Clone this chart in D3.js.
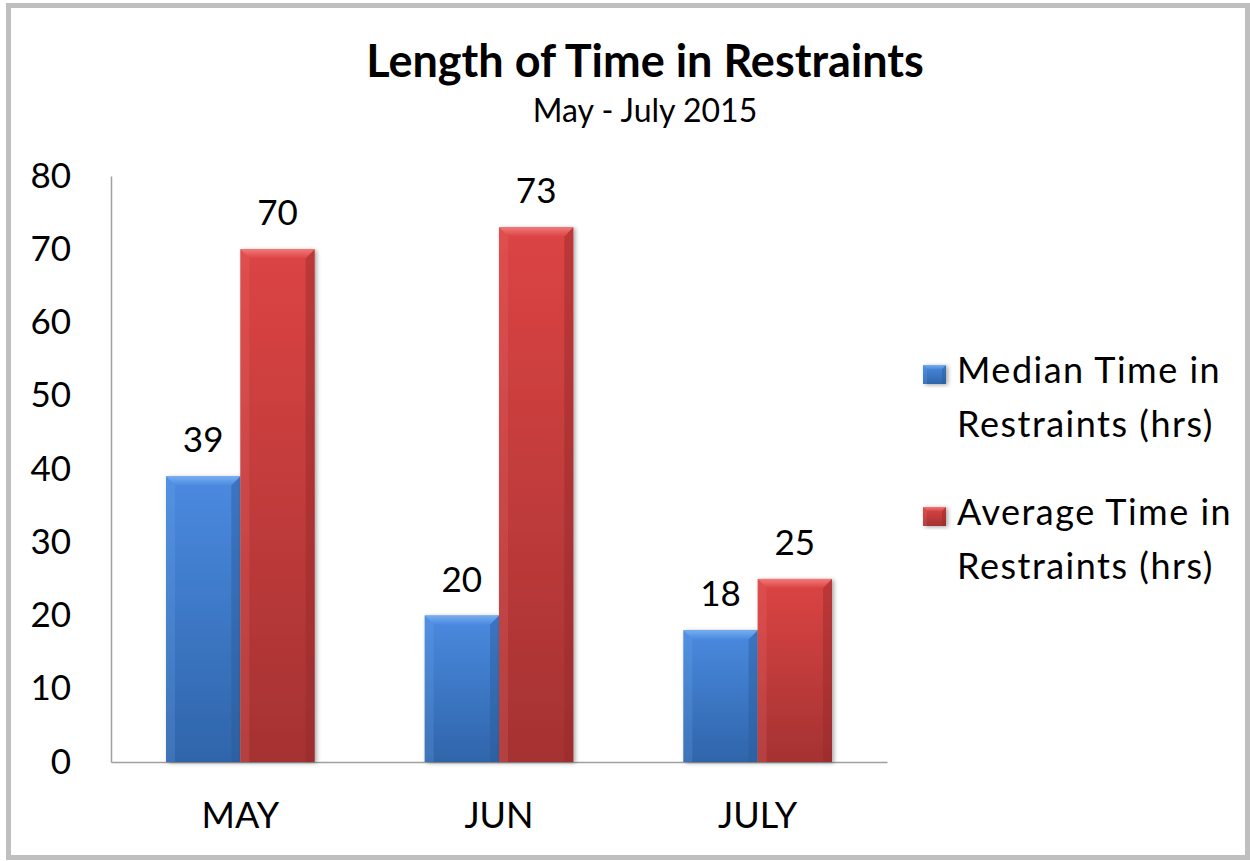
<!DOCTYPE html>
<html>
<head>
<meta charset="utf-8">
<script src="https://cdn.jsdelivr.net/npm/d3@7"></script>
<style>
  body { margin: 0; background: #fff; }
  text { font-family: Lato, "Open Sans", sans-serif; fill: #000; }
</style>
</head>
<body>
<script>
'use strict';

let categories = ["MAY", "JUN", "JULY"];
let medianValues = [39, 20, 18];
let averageValues = [70, 73, 25];
let seriesNames = ["Median Time in Restraints (hrs)", "Average Time in Restraints (hrs)"];
let legendLines = [["Median Time in", "Restraints (hrs)"], ["Average Time in", "Restraints (hrs)"]];
let yTicks = [0, 10, 20, 30, 40, 50, 60, 70, 80];

let width = 1250;
let height = 861;

let svgContainer = d3.select('body')
  .append('svg')
  .attr('width', width)
  .attr('height', height);

// colours for each series: top, bottom, light bevel, dark bevel
let palette = [
  { top: "#4a8ae0", bottom: "#2f65aa", light: "#78aef0", dark: "#2a5a98" },
  { top: "#dc4444", bottom: "#a53232", light: "#f27a7a", dark: "#952a2a" }
];

let defs = svgContainer.append('defs');
palette.forEach(function(c, i) {
  let g = defs.append('linearGradient')
    .attr('id', 'grad' + i)
    .attr('x1', 0).attr('y1', 0).attr('x2', 0).attr('y2', 1);
  g.append('stop').attr('offset', '0%').attr('stop-color', c.top);
  g.append('stop').attr('offset', '100%').attr('stop-color', c.bottom);
  let t = defs.append('linearGradient')
    .attr('id', 'topgrad' + i)
    .attr('x1', 0).attr('y1', 0).attr('x2', 0).attr('y2', 1);
  t.append('stop').attr('offset', '0%').attr('stop-color', c.light);
  t.append('stop').attr('offset', '100%').attr('stop-color', c.top);
});
let shadow = defs.append('filter').attr('id', 'shadow')
  .attr('x', '-20%').attr('y', '-20%').attr('width', '150%').attr('height', '140%');
shadow.append('feDropShadow')
  .attr('dx', 2).attr('dy', 1).attr('stdDeviation', 2)
  .attr('flood-color', '#000').attr('flood-opacity', 0.35);

// outer frame
svgContainer.append('rect')
  .attr('x', 8.5).attr('y', 5.5)
  .attr('width', 1239).attr('height', 852)
  .attr('fill', 'none')
  .attr('stroke', '#bfbfbf')
  .attr('stroke-width', 5);

// titles
svgContainer.append('text')
  .attr('x', 645).attr('y', 77)
  .attr('text-anchor', 'middle')
  .style('font-size', '45px')
  .style('font-weight', 'bold')
  .text('Length of Time in Restraints');
svgContainer.append('text')
  .attr('x', 645).attr('y', 122)
  .attr('text-anchor', 'middle')
  .style('font-size', '32px')
  .text('May - July 2015');

// scales
let xScale = d3.scaleBand()
  .domain(categories)
  .range([111, 887]);
let xInner = d3.scaleBand()
  .domain([0, 1])
  .range([0, xScale.bandwidth()])
  .paddingOuter(0.74);
let yScale = d3.scaleLinear()
  .domain([0, 80])
  .range([762, 176]);

// y axis
let yAxis = svgContainer.append('g')
  .attr('transform', 'translate(111, 0)')
  .call(d3.axisLeft(yScale).tickValues(yTicks).tickSize(0).tickPadding(40).tickSizeOuter(0));
yAxis.select('.domain').attr('stroke', '#a0a0a0').attr('stroke-width', 1.5);
yAxis.selectAll('text')
  .style('font-size', '35px')
  .style('font-family', 'Lato, sans-serif')
  .attr('fill', '#000');

// x axis
let xAxis = svgContainer.append('g')
  .attr('transform', 'translate(0, 762)')
  .call(d3.axisBottom(xScale).tickSize(0).tickPadding(40).tickSizeOuter(0));
xAxis.select('.domain').attr('stroke', '#a0a0a0').attr('stroke-width', 1.5);
xAxis.selectAll('text')
  .style('font-size', '36px')
  .style('font-family', 'Lato, sans-serif')
  .attr('fill', '#000');

function drawBevelBar(parent, x, y, w, h, s, b) {
  let c = palette[s];
  let g = parent.append('g');
  g.append('rect')
    .attr('x', x).attr('y', y).attr('width', w).attr('height', h)
    .attr('fill', 'url(#grad' + s + ')')
    .attr('filter', 'url(#shadow)');
  // left edge
  g.append('polygon')
    .attr('points', [[x, y], [x + b, y + b], [x + b, y + h], [x, y + h]].join(' '))
    .attr('fill', c.light).attr('opacity', 0.2);
  // right edge
  g.append('polygon')
    .attr('points', [[x + w, y], [x + w - b, y + b], [x + w - b, y + h], [x + w, y + h]].join(' '))
    .attr('fill', c.dark).attr('opacity', 0.45);
  // top edge
  g.append('polygon')
    .attr('points', [[x, y], [x + w, y], [x + w - b, y + b], [x + b, y + b]].join(' '))
    .attr('fill', 'url(#topgrad' + s + ')');
}

let barData = [];
categories.forEach(function(cat, i) {
  barData.push({ cat: cat, s: 0, v: medianValues[i] });
  barData.push({ cat: cat, s: 1, v: averageValues[i] });
});

let bars = svgContainer.append('g');
barData.forEach(function(d) {
  let x = xScale(d.cat) + xInner(d.s);
  let y = yScale(d.v);
  drawBevelBar(bars, x, y, xInner.bandwidth(), yScale(0) - y, d.s, 9);
});

// data labels
svgContainer.selectAll('.label')
  .data(barData)
  .enter()
  .append('text')
  .attr('class', 'label')
  .attr('x', d => xScale(d.cat) + xInner(d.s) + xInner.bandwidth() / 2)
  .attr('y', d => yScale(d.v) - 24)
  .attr('text-anchor', 'middle')
  .style('font-size', '35px')
  .text(d => d.v);

// legend
let legend = svgContainer.append('g');
let legendTop = [361, 503];
legendLines.forEach(function(lines, i) {
  drawBevelBar(legend, 923, legendTop[i] + 4, 23, 19, i, 4);
  lines.forEach(function(t, j) {
    legend.append('text')
      .attr('x', 957)
      .attr('y', legendTop[i] + 22 + j * 54)
      .style('font-size', '36px')
      .style('letter-spacing', '1.5px')
      .text(t);
  });
});
</script>
</body>
</html>
